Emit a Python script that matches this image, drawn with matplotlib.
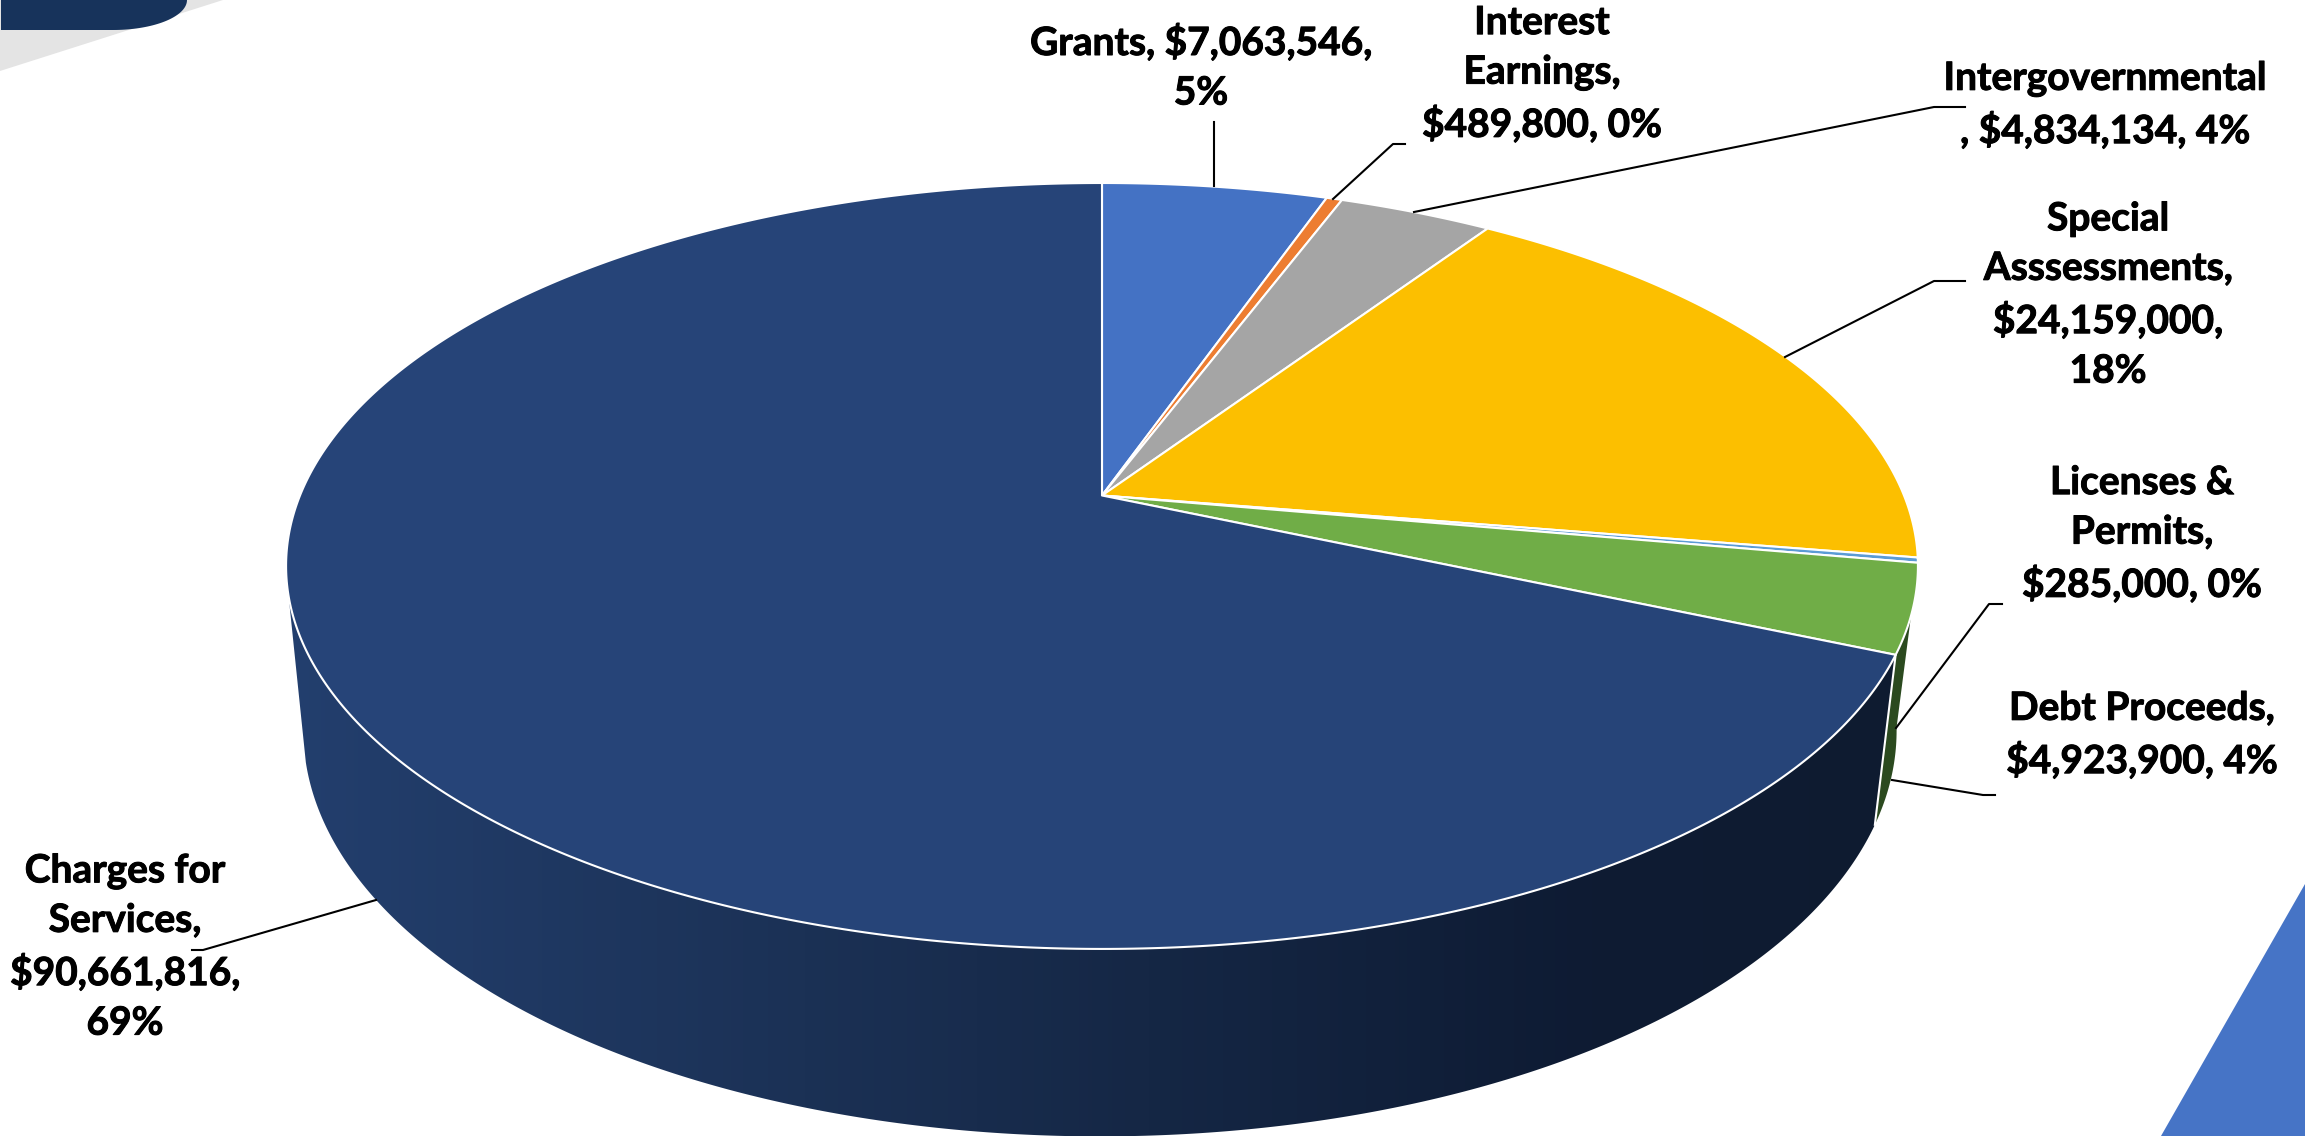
import numpy as np
from matplotlib import pyplot as plt
from matplotlib import patheffects
from matplotlib.colors import LinearSegmentedColormap
from matplotlib.patches import Polygon

categories = ['Grants', 'Interest Earnings', 'Intergovernmental', 'Special Asssessments',
              'Licenses & Permits', 'Debt Proceeds', 'Charges for Services']
amounts = [7063546, 489800, 4834134, 24159000, 285000, 4923900, 90661816]
slice_colors = ['#4472c4', '#ed7d31', '#a5a5a5', '#fcbf00', '#5b9bd5', '#70ad47', '#264478']

labels = ['Grants, $7,063,546,\n5%',
          'Interest\nEarnings,\n$489,800, 0%',
          'Intergovernmental\n, $4,834,134, 4%',
          'Special\nAsssessments,\n$24,159,000,\n18%',
          'Licenses &\nPermits,\n$285,000, 0%',
          'Debt Proceeds,\n$4,923,900, 4%',
          'Charges for\nServices,\n$90,661,816,\n69%']
label_pos = [(1201, 67), (1542, 74), (2105, 105), (2108, 295), (2142, 534), (2142, 735), (125, 947)]
leaders = [[(1214, 122), (1214, 186)],
           [(1405, 144), (1393, 144), (1333, 199)],
           [(1965, 107), (1934, 107), (1414, 212)],
           [(1965, 281), (1934, 281), (1785, 357)],
           [(2002, 604), (1989, 604), (1896, 728)],
           [(1995, 795), (1983, 795), (1892, 780)],
           [(192, 950), (203, 950), (376, 900)]]

# top and bottom discs of the pie, in picture pixels
TOP = dict(cx=1102, cy=495.5, a=802, b=370, k=0.184)
BOTTOM = dict(cx=1100, cy=656, a=783, b=392, k=0.184)


def ring(theta, cx, cy, a, b, k):
    d = 1 + k * np.cos(theta)
    return cx + a * np.sin(theta) / d, cy - b * np.cos(theta) / d


def arc(start, end):
    return np.linspace(start, end, max(int(abs(end - start) * 120), 8))


def wall(start, end):
    t = arc(start, end)
    xt, yt = ring(t, **TOP)
    xb, yb = ring(t[::-1], **BOTTOM)
    return np.column_stack([np.r_[xt, xb], np.r_[yt, yb]])


fig = plt.figure(figsize=(23.05, 11.36), dpi=100)
ax = fig.add_axes([0, 0, 1, 1])
ax.set_xlim(0, 2305)
ax.set_ylim(1136, 0)
ax.axis('off')

# slide decoration
ax.add_patch(Polygon([(0, 0), (223, 0), (0, 71)], color='#e4e4e4', lw=0))
t = np.linspace(0, np.pi / 2, 40)
ax.add_patch(Polygon(np.r_[[(1, 0), (1, 30)], np.column_stack([113 + 74 * np.sin(t), 30 - 30 * (1 - np.cos(t))])],
                     color='#17335b', lw=0))
ax.add_patch(Polygon([(2305, 884), (2161, 1136), (2305, 1136)], color='#4674c6', lw=0))

edges = 2 * np.pi * np.r_[0, np.cumsum(amounts)] / np.sum(amounts)

# side walls: debt slice, then the big slice with its left to right shading
ax.add_patch(Polygon(wall(edges[5], edges[6]), facecolor='#2b4a1f', edgecolor='none', zorder=2))
shade = LinearSegmentedColormap.from_list('side', [(0, '#233f6e'), (0.32, '#1b3155'), (0.53, '#152745'),
                                                   (0.80, '#0e1b33'), (1, '#0f1c30')])
clip = Polygon(wall(edges[6], np.radians(255)), transform=ax.transData, facecolor='none', edgecolor='none')
ax.add_patch(clip)
img = ax.imshow(np.linspace(0, 1, 400).reshape(1, -1), cmap=shade, extent=(280, 1920, 1136, 500),
                aspect='auto', zorder=3)
img.set_clip_path(clip)
ax.set_xlim(0, 2305)
ax.set_ylim(1136, 0)

x0, y0 = ring(edges[6], **TOP)
x1, y1 = ring(edges[6], **BOTTOM)
ax.plot([x0, x1], [y0, y1], color='white', lw=1.5, zorder=4)

# top face
for start, end, color in zip(edges[:-1], edges[1:], slice_colors):
    x, y = ring(arc(start, end), **TOP)
    pts = np.r_[[(TOP['cx'], TOP['cy'])], np.column_stack([x, y])]
    ax.add_patch(Polygon(pts, facecolor=color, edgecolor='white', lw=1.5, joinstyle='round', zorder=5))

for pts in leaders:
    ax.plot(*zip(*pts), color='black', lw=1.5, zorder=6)

for text, (x, y) in zip(labels, label_pos):
    ax.text(x, y, text, ha='center', va='center', family='Lato', fontweight='bold',
            fontsize=28, linespacing=1.5, color='black', zorder=7,
            path_effects=[patheffects.withStroke(linewidth=0.7, foreground='black')])

fig.savefig('out.png', dpi=100)
